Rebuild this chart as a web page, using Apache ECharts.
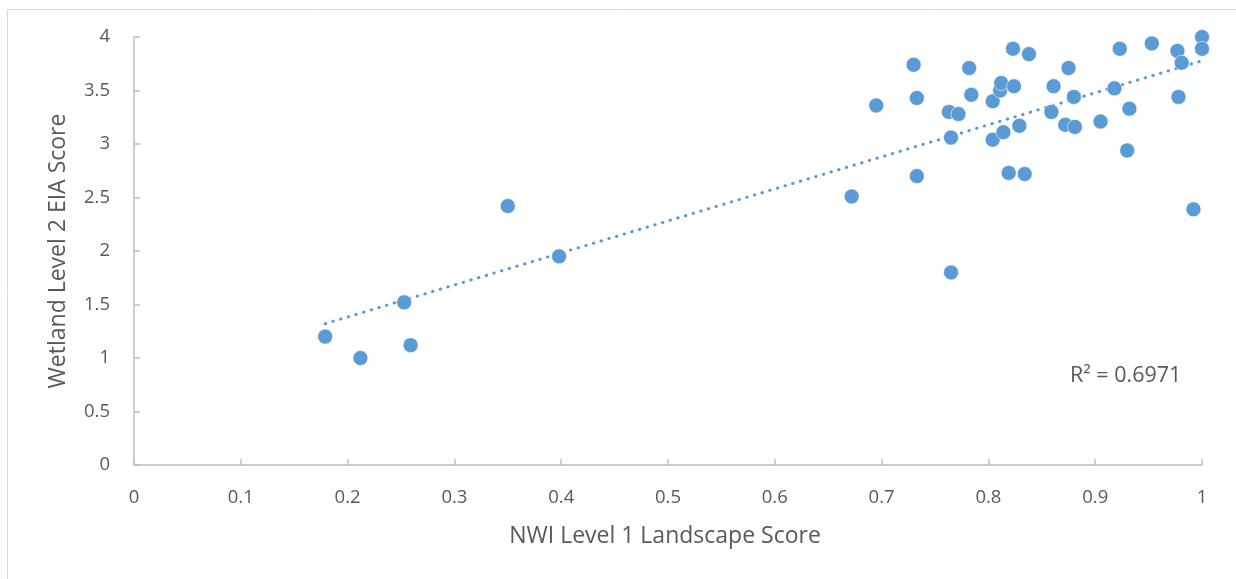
<!DOCTYPE html>
<html>
<head>
<meta charset="utf-8">
<script src="https://cdn.jsdelivr.net/npm/echarts@6/dist/echarts.min.js"></script>
<style>
  html, body { margin: 0; padding: 0; background: #fff; }
  #chart { width: 1236px; height: 579px; }
</style>
</head>
<body>
<div id="chart"></div>
<script>
// NWI Level 1 landscape score for each site
const landscapeScores = [
  0.179, 0.212, 0.253, 0.259, 0.350, 0.398, 0.672, 0.695, 0.730, 0.733,
  0.733, 0.763, 0.765, 0.765, 0.772, 0.782, 0.784, 0.804, 0.804, 0.811,
  0.812, 0.814, 0.819, 0.823, 0.824, 0.829, 0.834, 0.838, 0.859, 0.861,
  0.872, 0.875, 0.880, 0.881, 0.905, 0.918, 0.923, 0.930, 0.932, 0.953,
  0.977, 0.978, 0.981, 0.992, 1.000, 1.000
];
// Wetland Level 2 EIA score for the same sites
const eiaScores = [
  1.20, 1.00, 1.52, 1.12, 2.42, 1.95, 2.51, 3.36, 3.74, 3.43,
  2.70, 3.30, 3.06, 1.80, 3.28, 3.71, 3.46, 3.40, 3.04, 3.50,
  3.57, 3.11, 2.73, 3.89, 3.54, 3.17, 2.72, 3.84, 3.30, 3.54,
  3.18, 3.71, 3.44, 3.16, 3.21, 3.52, 3.89, 2.94, 3.33, 3.94,
  3.87, 3.44, 3.76, 2.39, 4.00, 3.89
];
const rSquaredLabel = 'R² = 0.6971';
const xAxisTitle = 'NWI Level 1 Landscape Score';
const yAxisTitle = 'Wetland Level 2 EIA Score';

const points = landscapeScores.map((x, i) => [x, eiaScores[i]]);

// Least-squares linear trend over the observed x range
function linearTrend(xs, ys) {
  const n = xs.length;
  const mx = xs.reduce((a, b) => a + b, 0) / n;
  const my = ys.reduce((a, b) => a + b, 0) / n;
  let sxy = 0, sxx = 0;
  for (let i = 0; i < n; i++) {
    sxy += (xs[i] - mx) * (ys[i] - my);
    sxx += (xs[i] - mx) * (xs[i] - mx);
  }
  const slope = sxy / sxx;
  const intercept = my - slope * mx;
  const x0 = Math.min(...xs), x1 = Math.max(...xs);
  return [[x0, intercept + slope * x0], [x1, intercept + slope * x1]];
}
const trend = linearTrend(landscapeScores, eiaScores);

const FONT = '"Open Sans", Lato, sans-serif';
const TEXT = '#595959';
const AXIS = '#bfbfbf';
const BLUE = '#5b9bd5';

const chart = echarts.init(document.getElementById('chart'), null, { renderer: 'canvas' });
chart.setOption({
  animation: false,
  backgroundColor: '#fff',
  grid: { left: 134, right: 34, top: 37, bottom: 114, containLabel: false },
  xAxis: {
    type: 'value', min: 0, max: 1, interval: 0.1,
    axisLine: { show: true, lineStyle: { color: AXIS, width: 1.5 } },
    axisTick: { show: true, inside: true, length: 6, lineStyle: { color: AXIS, width: 1.5 } },
    splitLine: { show: false },
    axisLabel: { color: TEXT, fontFamily: FONT, fontSize: 18.5, margin: 23 }
  },
  yAxis: {
    type: 'value', min: 0, max: 4, interval: 0.5,
    axisLine: { show: true, lineStyle: { color: AXIS, width: 1.5 } },
    axisTick: { show: true, inside: true, length: 6, lineStyle: { color: AXIS, width: 1.5 } },
    splitLine: { show: false },
    axisLabel: { color: TEXT, fontFamily: FONT, fontSize: 18.5, margin: 24 }
  },
  series: [
    {
      type: 'line',
      data: trend,
      symbol: 'none',
      z: 1,
      lineStyle: { color: BLUE, width: 3, type: [0.5, 7.5], cap: 'round' },
      silent: true
    },
    {
      type: 'scatter',
      data: points,
      symbol: 'circle',
      symbolSize: 15,
      z: 2,
      itemStyle: { color: BLUE, opacity: 1, borderColor: 'rgba(255,255,255,0.7)', borderWidth: 0.8 }
    }
  ],
  graphic: [
    {
      type: 'rect', silent: true, z: -1,
      shape: { x: 7.5, y: 9.5, width: 1400, height: 700 },
      style: { fill: 'none', stroke: '#d9d9d9', lineWidth: 1 }
    },
    {
      type: 'text', silent: true,
      style: { text: xAxisTitle, x: 665, y: 536, align: 'center', verticalAlign: 'middle',
               fill: TEXT, font: '23px ' + FONT }
    },
    {
      type: 'text', silent: true,
      x: 58, y: 251, rotation: Math.PI / 2,
      style: { text: yAxisTitle, x: 0, y: 0, align: 'center', verticalAlign: 'middle',
               fill: TEXT, font: '23px ' + FONT }
    },
    {
      type: 'text', silent: true,
      style: { text: rSquaredLabel, x: 1070, y: 376, align: 'left', verticalAlign: 'middle',
               fill: TEXT, font: '21.5px ' + FONT }
    }
  ]
});
</script>
</body>
</html>
